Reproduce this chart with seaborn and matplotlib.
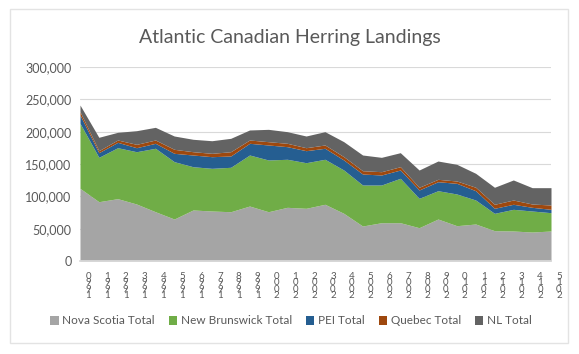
import matplotlib
matplotlib.use("Agg")
import matplotlib.pyplot as plt
from matplotlib.patches import Rectangle
from matplotlib.transforms import ScaledTranslation
import numpy as np
import pandas as pd
import seaborn as sns

# Landings by province, 1990-2015
years = list(range(1990, 2016))
nova_scotia = [112400, 91700, 96400, 88100, 76200, 64900, 78900, 77300, 76200, 85000,
               76200, 83000, 81500, 87700, 73700, 54100, 59200, 59200, 51500, 64900,
               54600, 57200, 46900, 46400, 44800, 46400]
new_brunswick = [100600, 68600, 78800, 80900, 98100, 88700, 66900, 66000, 68700, 78900,
                 80000, 74300, 70500, 69600, 67000, 63400, 58300, 68700, 45400, 43800,
                 49000, 37100, 26800, 33500, 32500, 28300]
pei = [12800, 7200, 8300, 6200, 7700, 12900, 18100, 18000, 17500, 18100,
       23200, 19500, 18600, 17000, 15500, 17000, 15500, 12800, 12900, 13900,
       16500, 14400, 7800, 7800, 5700, 5200]
quebec = [5100, 3100, 3600, 5200, 5100, 6200, 5100, 5200, 6600, 5100,
          5100, 5200, 4600, 5100, 5100, 5100, 5100, 5100, 4200, 3700,
          3600, 5300, 6200, 6600, 5100, 6700]
newfoundland = [10300, 20700, 11900, 21100, 19600, 20600, 19200, 19500, 20700, 15500,
                19100, 18000, 18100, 20600, 23200, 24300, 22200, 21700, 26700, 28300,
                25800, 21600, 26300, 31000, 25300, 26800]

series_names = ["Nova Scotia Total", "New Brunswick Total", "PEI Total",
                "Quebec Total", "NL Total"]
colors = ["#A5A5A5", "#70AD47", "#255E91", "#9E480E", "#636363"]

df = pd.DataFrame({
    "year": years,
    series_names[0]: nova_scotia,
    series_names[1]: new_brunswick,
    series_names[2]: pei,
    series_names[3]: quebec,
    series_names[4]: newfoundland,
})

sns.set_theme(style="white")
plt.rcParams["font.family"] = ["Lato", "DejaVu Sans"]
txt = "#595959"

fig = plt.figure(figsize=(5.79, 3.54), dpi=100)
ax = fig.add_axes([80 / 579, 1 - 261 / 354, 471 / 579, 194 / 354])

pal = sns.color_palette(colors)
x = np.arange(len(years))
ax.stackplot(x, [df[c] for c in series_names], colors=pal, labels=series_names,
             linewidth=0, zorder=2)

ax.set_xlim(0, len(years) - 1)
ax.set_ylim(0, 300000)
ax.set_yticks(range(0, 300001, 50000))
ax.set_yticklabels([f"{v:,}" for v in range(0, 300001, 50000)], color=txt, fontsize=9)
ax.yaxis.grid(True, color="#D9D9D9", linewidth=0.8, zorder=0)
ax.set_axisbelow(True)
ax.tick_params(axis="y", length=0, pad=6)

# Excel-style stacked, reversed year labels
ax.set_xticks(x)
ax.set_xticklabels(["\n".join(str(y)[::-1]) for y in years], fontsize=7,
                   color=txt, linespacing=0.62, va="top")
ax.tick_params(axis="x", length=0, pad=8)
shift = ScaledTranslation(8 / 100, 0, fig.dpi_scale_trans)
for lab in ax.get_xticklabels():
    lab.set_transform(lab.get_transform() + shift)

for s in ["top", "right", "left"]:
    ax.spines[s].set_visible(False)
ax.spines["bottom"].set_color("#D9D9D9")
ax.spines["bottom"].set_zorder(3)

fig.text(290 / 579, 1 - 37 / 354, "Atlantic Canadian Herring Landings",
         ha="center", va="center", fontsize=14, color=txt)

handles, labels = ax.get_legend_handles_labels()
fig.legend(handles, labels, loc="center", bbox_to_anchor=(291 / 579, 1 - 321 / 354),
           ncol=5, frameon=False, fontsize=8.5, labelcolor=txt,
           handlelength=0.7, handleheight=0.7, handletextpad=0.3, columnspacing=1.2)

fig.patches.append(Rectangle((10 / 579, 1 - 343 / 354), 558 / 579, 334 / 354,
                             transform=fig.transFigure, fill=False,
                             edgecolor="#E3E3E3", linewidth=1))

fig.savefig("out.png", dpi=100)
